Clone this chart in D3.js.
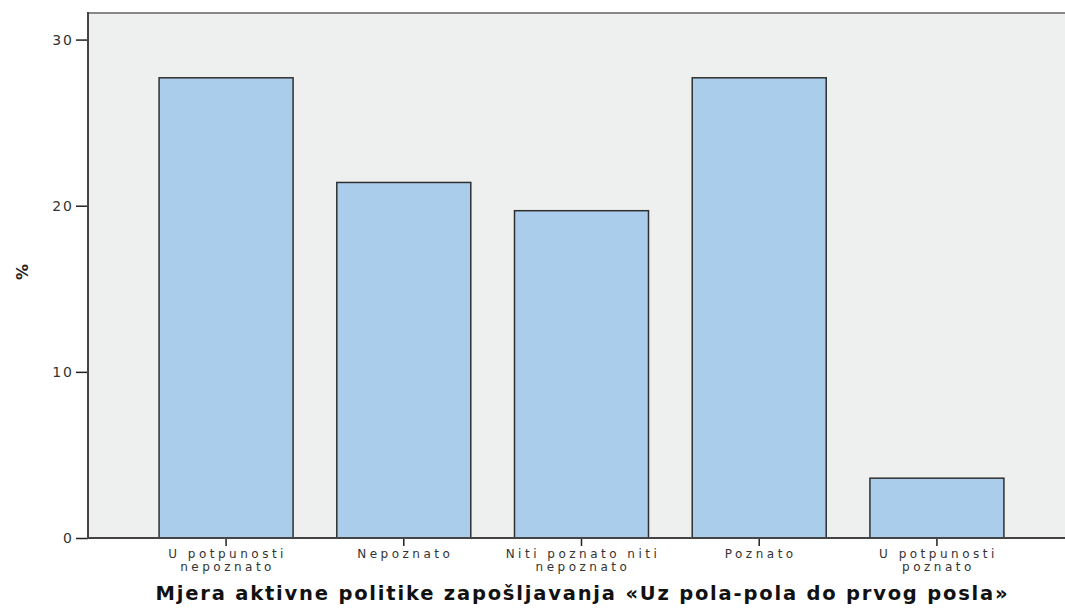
<!DOCTYPE html>
<html>
<head>
<meta charset="utf-8">
<script src="https://cdn.jsdelivr.net/npm/d3@7"></script>
<style>
  body { margin: 0; background: #fff; }
  svg { display: block; }
  text { font-family: "DejaVu Sans", Verdana, sans-serif; fill: #333; }
</style>
</head>
<body>
<div id="chart"></div>
<script>
// data
var categories = [
	["U potpunosti", "nepoznato"],
	["Nepoznato"],
	["Niti poznato niti", "nepoznato"],
	["Poznato"],
	["U potpunosti", "poznato"]
];
var percents = [27.7, 21.4, 19.7, 27.7, 3.6];
var yTicks = [0, 10, 20, 30];
var xTitle = "Mjera aktivne politike zapošljavanja «Uz pola-pola do prvog posla»";
var yTitle = "%";

(function() {
	var width = 1065, height = 608;
	var plotLeft = 88, plotTop = 13, plotBottom = 538, plotRight = 1075;

	var svg = d3.select("#chart").append("svg")
		.attr("width", width)
		.attr("height", height);

	var x = d3.scaleBand()
		.domain(d3.range(categories.length))
		.range([plotLeft, plotRight])
		.paddingInner(0.246)
		.paddingOuter(0.40);

	var y = d3.scaleLinear()
		.domain([0, 31.6])
		.range([plotBottom, plotTop]);

	// plot background
	svg.append("rect")
		.attr("x", plotLeft).attr("y", plotTop)
		.attr("width", width - plotLeft).attr("height", plotBottom - plotTop)
		.style("fill", "#eef0ef");

	svg.append("line")
		.attr("x1", plotLeft).attr("x2", width)
		.attr("y1", plotTop).attr("y2", plotTop)
		.style("stroke", "#888").style("stroke-width", 2);

	// bars
	svg.selectAll("rect.bar").data(percents).enter().append("rect")
		.attr("class", "bar")
		.attr("x", function(d, i) { return x(i); })
		.attr("y", function(d) { return y(d); })
		.attr("width", x.bandwidth())
		.attr("height", function(d) { return y(0) - y(d); })
		.style("fill", "#abcdec")
		.style("stroke", "#2f2f2f")
		.style("stroke-width", 1.5);

	// y axis
	var yAxis = svg.append("g")
		.attr("transform", "translate(" + plotLeft + ",0)")
		.call(d3.axisLeft(y).tickValues(yTicks).tickSize(12).tickPadding(2).tickSizeOuter(0));
	yAxis.select(".domain").remove();
	yAxis.selectAll(".tick line").style("stroke", "#222").style("stroke-width", 1.5);
	yAxis.selectAll(".tick text")
		.style("font-family", "DejaVu Sans")
		.style("font-size", "14px")
		.style("letter-spacing", "2px")
		.style("fill", "#333");

	svg.append("line")
		.attr("x1", plotLeft).attr("x2", plotLeft)
		.attr("y1", plotTop - 1).attr("y2", plotBottom)
		.style("stroke", "#444").style("stroke-width", 2);

	// x axis
	var xAxis = svg.append("g")
		.attr("transform", "translate(0," + plotBottom + ")")
		.call(d3.axisBottom(x).tickSize(8).tickFormat(""));
	xAxis.select(".domain").remove();
	xAxis.selectAll(".tick line").style("stroke", "#222").style("stroke-width", 1.5);

	svg.append("line")
		.attr("x1", plotLeft - 1).attr("x2", width)
		.attr("y1", plotBottom).attr("y2", plotBottom)
		.style("stroke", "#444").style("stroke-width", 2);

	// category labels
	var labels = svg.selectAll("text.cat").data(categories).enter().append("text")
		.attr("class", "cat")
		.attr("text-anchor", "middle")
		.style("font-size", "12px")
		.style("letter-spacing", "3.5px");
	labels.selectAll("tspan").data(function(d, i) { return d.map(function(s) { return {s: s, i: i}; }); })
		.enter().append("tspan")
		.attr("x", function(d) { return x(d.i) + x.bandwidth() / 2 + 1.5; })
		.attr("y", function(d, j) { return 558 + j * 13; })
		.text(function(d) { return d.s; });

	// axis titles
	svg.append("text")
		.attr("x", (plotLeft + width) / 2 + 6)
		.attr("y", 600)
		.attr("text-anchor", "middle")
		.style("font-size", "19.5px")
		.style("font-weight", "bold")
		.style("letter-spacing", "1.8px")
		.style("fill", "#111")
		.text(xTitle);

	svg.append("text")
		.attr("transform", "translate(28,272) rotate(-90)")
		.attr("text-anchor", "middle")
		.style("font-size", "16px")
		.style("font-weight", "bold")
		.style("fill", "#222")
		.text(yTitle);
})();
</script>
</body>
</html>
